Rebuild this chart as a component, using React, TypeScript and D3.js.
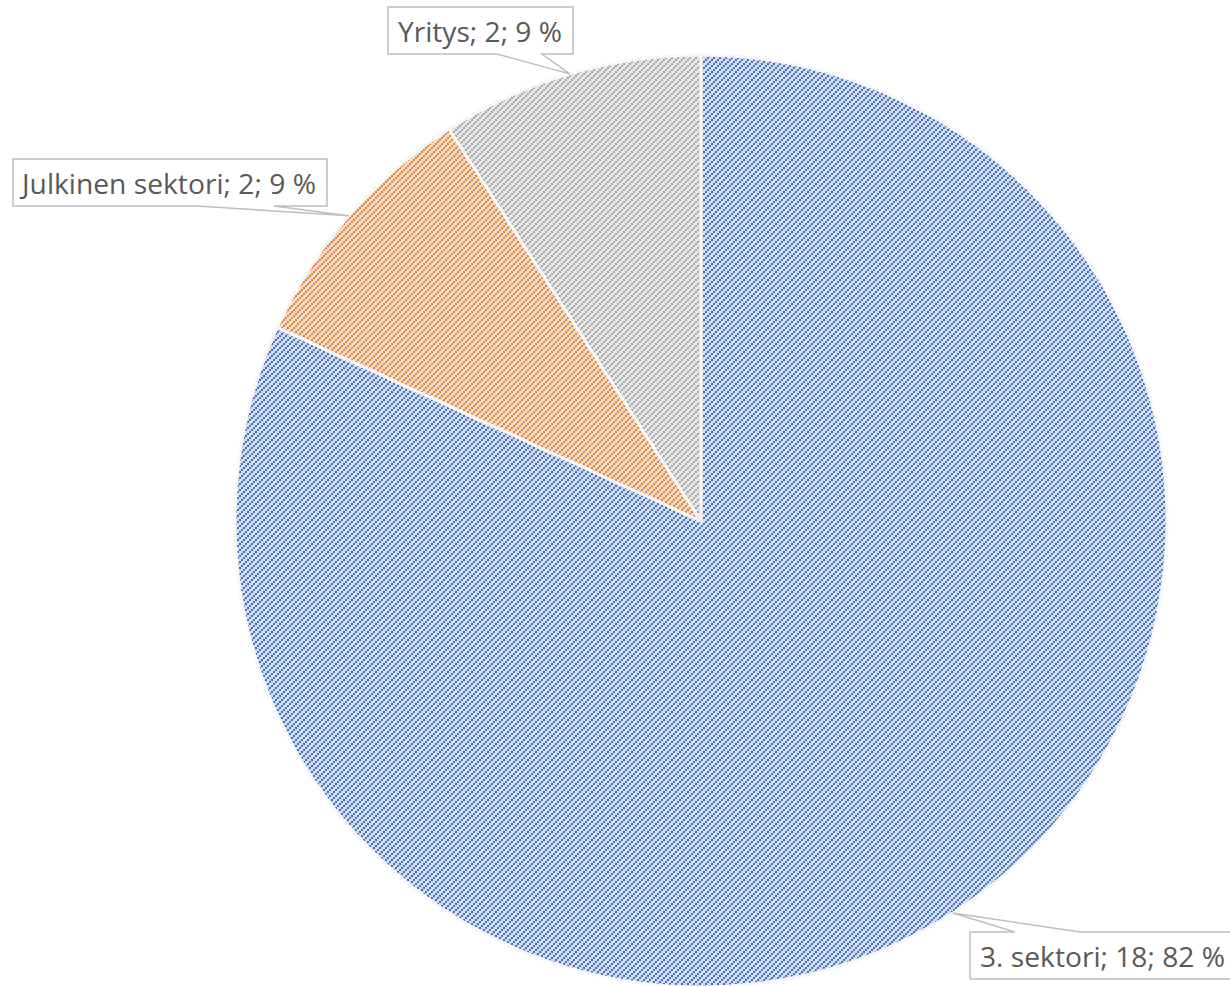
import * as d3 from 'd3';

const categories = ['3. sektori', 'Julkinen sektori', 'Yritys'];
const values = [18, 2, 2];
const percents = ['82 %', '9 %', '9 %'];
const stripeColors = ['#4472c4', '#ed7d31', '#a5a5a5'];
const bgColors = ['#d6e0f3', '#fbe3d3', '#ebebeb'];

const W = 1230;
const H = 986;
const CX = 701;
const CY = 521;
const R = 466;

// callout boxes: [x, y, w, h], tail base x's on the attached edge, side
const boxes = [
  { x: 970, y: 932, w: 262, h: 47, tail: [1015, 1080], side: 'top', tx: 980, tw: 245 },
  { x: 13, y: 159, w: 314, h: 47, tail: [197, 274], side: 'bottom', tx: 22, tw: 294 },
  { x: 388, y: 7, w: 185, h: 47, tail: [497, 542], side: 'bottom', tx: 398, tw: 164 },
];

const steps = [0, 1, 2];

export default function App() {
  const pie = d3
    .pie<number>()
    .sort(null)
    .startAngle(0)
    .endAngle(2 * Math.PI);
  const arcs = pie(values);
  const arc = d3.arc<d3.PieArcDatum<number>>().innerRadius(0).outerRadius(R);

  return (
    <svg width={W} height={H} style={{ display: 'block', position: 'absolute', left: 0, top: 0 }}>
      <defs>
        {stripeColors.map((c, i) => (
          <pattern key={i} id={`hatch${i}`} patternUnits="userSpaceOnUse" width={6} height={6}>
            <rect width={6} height={6} fill={bgColors[i]} />
            {steps.map((s) => (
              <rect key={s} x={4 - 2 * s} y={2 * s} width={2} height={2} fill={c} shapeRendering="crispEdges" />
            ))}
          </pattern>
        ))}
        <filter id="inner" x="-5%" y="-5%" width="110%" height="110%">
          <feComponentTransfer in="SourceAlpha" result="inv">
            <feFuncA type="table" tableValues="1 0" />
          </feComponentTransfer>
          <feGaussianBlur in="inv" stdDeviation="6" result="blur" />
          <feFlood floodColor="#000" floodOpacity="0.15" result="col" />
          <feComposite in="col" in2="blur" operator="in" result="sh" />
          <feComposite in="sh" in2="SourceAlpha" operator="in" result="sh2" />
          <feMerge>
            <feMergeNode in="SourceGraphic" />
            <feMergeNode in="sh2" />
          </feMerge>
        </filter>
      </defs>
      <g transform={`translate(${CX},${CY})`}>
        {arcs.map((a, i) => (
          <path
            key={i}
            d={arc(a) ?? ''}
            fill={`url(#hatch${i})`}
            stroke="#fff"
            strokeWidth={3}
            strokeLinejoin="round"
            filter="url(#inner)"
          />
        ))}
      </g>
      {arcs.map((a, i) => {
        const b = boxes[i];
        const mid = (a.startAngle + a.endAngle) / 2;
        const px = CX + R * Math.sin(mid);
        const py = CY - R * Math.cos(mid);
        const [t1, t2] = b.tail;
        const x2 = b.x + b.w;
        const y2 = b.y + b.h;
        const d =
          b.side === 'top'
            ? `M${b.x},${b.y} L${t1},${b.y} L${px},${py} L${t2},${b.y} L${x2},${b.y} L${x2},${y2} L${b.x},${y2} Z`
            : `M${b.x},${b.y} L${x2},${b.y} L${x2},${y2} L${t2},${y2} L${px},${py} L${t1},${y2} L${b.x},${y2} Z`;
        return (
          <g key={`l${i}`}>
            <path d={d} fill="#fff" stroke="#bfbfbf" strokeWidth={1.5} />
            <text
              x={b.tx}
              y={b.y + 35}
              textLength={b.tw}
              lengthAdjust="spacingAndGlyphs"
              fontFamily="'Open Sans', 'Noto Sans', sans-serif"
              fontSize={28}
              fill="#595959"
            >
              {`${categories[i]}; ${values[i]}; ${percents[i]}`}
            </text>
          </g>
        );
      })}
    </svg>
  );
}
